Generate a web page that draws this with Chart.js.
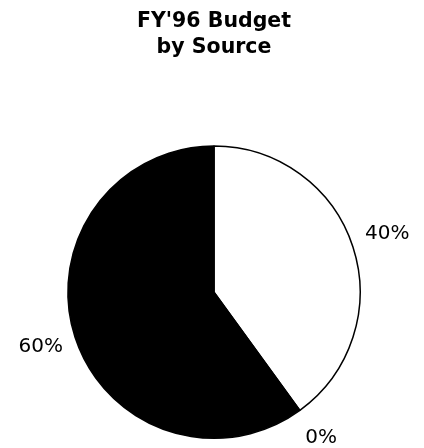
<!DOCTYPE html>
<html>
<head>
<meta charset="utf-8">
<script src="https://cdn.jsdelivr.net/npm/chart.js@4"></script>
<style>
  html, body { margin: 0; padding: 0; background: #fff; }
  #wrap { width: 424px; height: 448px; }
</style>
</head>
<body>
<div id="wrap"><canvas id="pieChart"></canvas></div>
<script>
var titleLines = ["FY'96 Budget", "by Source"];
var sources = ['Source A', 'Source B', 'Source C'];
var shares = [40, 0, 60];
var sliceColors = ['#ffffff', '#ffffff', '#000000'];

// labels de pourcentage autour du camembert
var pctLabels = {
  id: 'pctLabels',
  afterDatasetsDraw: function(chart) {
    var ctx = chart.ctx;
    var meta = chart.getDatasetMeta(0);
    ctx.save();
    ctx.font = '20px "DejaVu Sans"';
    ctx.fillStyle = '#000';
    ctx.textAlign = 'center';
    ctx.textBaseline = 'middle';
    meta.data.forEach(function(arc, i) {
      var p = arc.getProps(['x', 'y', 'startAngle', 'endAngle', 'outerRadius'], true);
      var mid = (p.startAngle + p.endAngle) / 2;
      var r = p.outerRadius + 36;
      ctx.fillText(shares[i] + '%', p.x + Math.cos(mid) * r, p.y + Math.sin(mid) * r - 2);
    });
    ctx.restore();
  }
};

var ctx = document.getElementById('pieChart');
var myPie = new Chart(ctx, {
  type: 'pie',
  data: {
    labels: sources,
    datasets: [{
      data: shares,
      backgroundColor: sliceColors,
      borderColor: '#000',
      borderWidth: 1.5
    }]
  },
  options: {
    responsive: true,
    maintainAspectRatio: false,
    animation: false,
    layout: { padding: { top: 0, bottom: 9, left: 4, right: 0 } },
    plugins: {
      legend: { display: false },
      tooltip: { enabled: false },
      title: {
        display: true,
        text: titleLines,
        color: '#000',
        font: { family: '"DejaVu Sans"', size: 20.5, weight: 'bold', lineHeight: 1.3 },
        padding: { top: 8, bottom: 84 }
      }
    }
  },
  plugins: [pctLabels]
});
</script>
</body>
</html>
